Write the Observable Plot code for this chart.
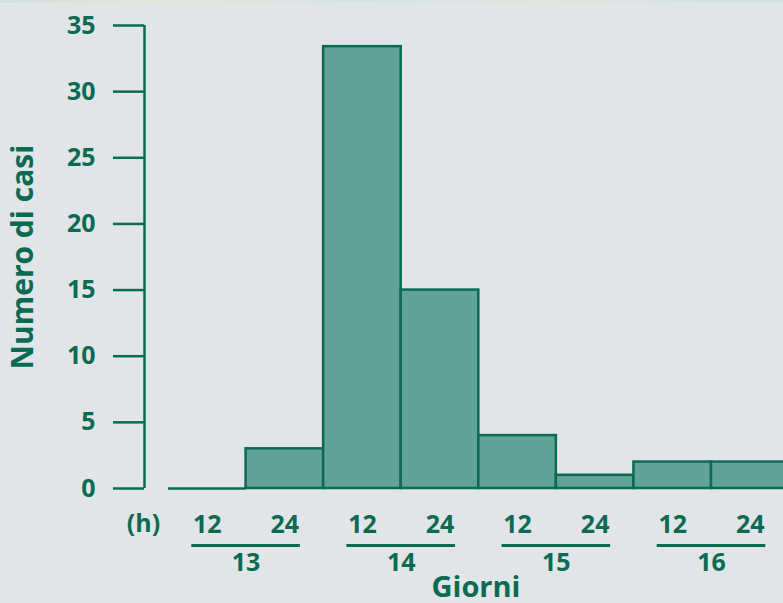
<!DOCTYPE html>
<html>
<head>
<meta charset="utf-8">
<script src="https://cdn.jsdelivr.net/npm/d3@7"></script>
<script src="https://cdn.jsdelivr.net/npm/@observablehq/plot@0.6"></script>
<style>
  html, body { margin: 0; padding: 0; background: #e1e5e8; overflow: hidden; }
  #wrap { position: relative; width: 783px; height: 603px; overflow: hidden; }
  #strip { position: absolute; left: 0; top: 0; width: 783px; height: 3px;
    background: linear-gradient(90deg, #d3dfdd, #e4e6da 20%, #d6e2e3 45%, #dfe5df 70%, #d2e0e2); }
</style>
</head>
<body>
<div id="wrap"><div id="strip"></div><div id="chart"></div></div>
<script>
// Data
const hourLabels = ["12", "24", "12", "24", "12", "24", "12", "24"];
const cases = [0, 3, 33.4, 15, 4, 1, 2, 2];
const days = ["13", "14", "15", "16"];
const yTicks = [0, 5, 10, 15, 20, 25, 30, 35];
const yLabel = "Numero di casi";
const xLabel = "Giorni";
const unitLabel = "(h)";

const green = "#0b6a52";
const fill = "#63a298";
const font = "'Open Sans', 'Noto Sans', sans-serif";

const bins = cases.map((v, i) => ({x1: i, x2: i + 1, v, hour: hourLabels[i], xc: i + 0.5}));
const dayData = days.map((d, j) => ({day: d, xc: 2 * j + 1, a: 2 * j + 1 - 0.7, b: 2 * j + 1 + 0.7}));

const chart = Plot.plot({
  width: 783,
  height: 603,
  marginLeft: 168,
  marginRight: 0,
  marginTop: 25,
  marginBottom: 115,
  style: {background: "transparent", color: green, fontFamily: font, fontWeight: "bold", overflow: "visible"},
  x: {domain: [0, 7.928], axis: null},
  y: {domain: [0, 35], axis: null},
  marks: [
    Plot.axisY({ticks: yTicks, tickSize: 31, tickPadding: 18, dx: -24, label: null,
      tickFormat: d => String(d), fontSize: 25, fontWeight: "bold", strokeWidth: 2.5, stroke: green, fill: green}),
    Plot.ruleX([0], {y1: 0, y2: 35, dx: -24, stroke: green, strokeWidth: 2.5}),
    Plot.rect(bins, {x1: "x1", x2: "x2", y1: 0, y2: "v", fill, stroke: green, strokeWidth: 2.5}),
    Plot.ruleY(bins.filter(d => d.v === 0), {x1: "x1", x2: "x2", y: 0, stroke: green, strokeWidth: 2.5}),
    Plot.text(bins, {x: "xc", y: 0, text: "hour", dy: 36, fontSize: 25, fontWeight: "bold", fill: green, lineAnchor: "middle"}),
    Plot.ruleY(dayData, {x1: "a", x2: "b", y: 0, dy: 57, stroke: green, strokeWidth: 3}),
    Plot.text(dayData, {x: "xc", y: 0, text: "day", dy: 74, fontSize: 25, fontWeight: "bold", fill: green, lineAnchor: "middle"}),
    Plot.text([unitLabel], {frameAnchor: "bottom-left", dx: -25, dy: 35, textAnchor: "middle", fontSize: 25, fontWeight: "bold", fill: green, lineAnchor: "middle"}),
    Plot.text([xLabel], {frameAnchor: "bottom", dy: 99, textAnchor: "middle", fontSize: 29, fontWeight: "bold", fill: green, lineAnchor: "middle"}),
    Plot.text([yLabel], {frameAnchor: "left", dx: -145, rotate: -90, textAnchor: "middle", fontSize: 30, fontWeight: "bold", fill: green, lineAnchor: "middle"})
  ]
});
document.getElementById("chart").appendChild(chart);
</script>
</body>
</html>
